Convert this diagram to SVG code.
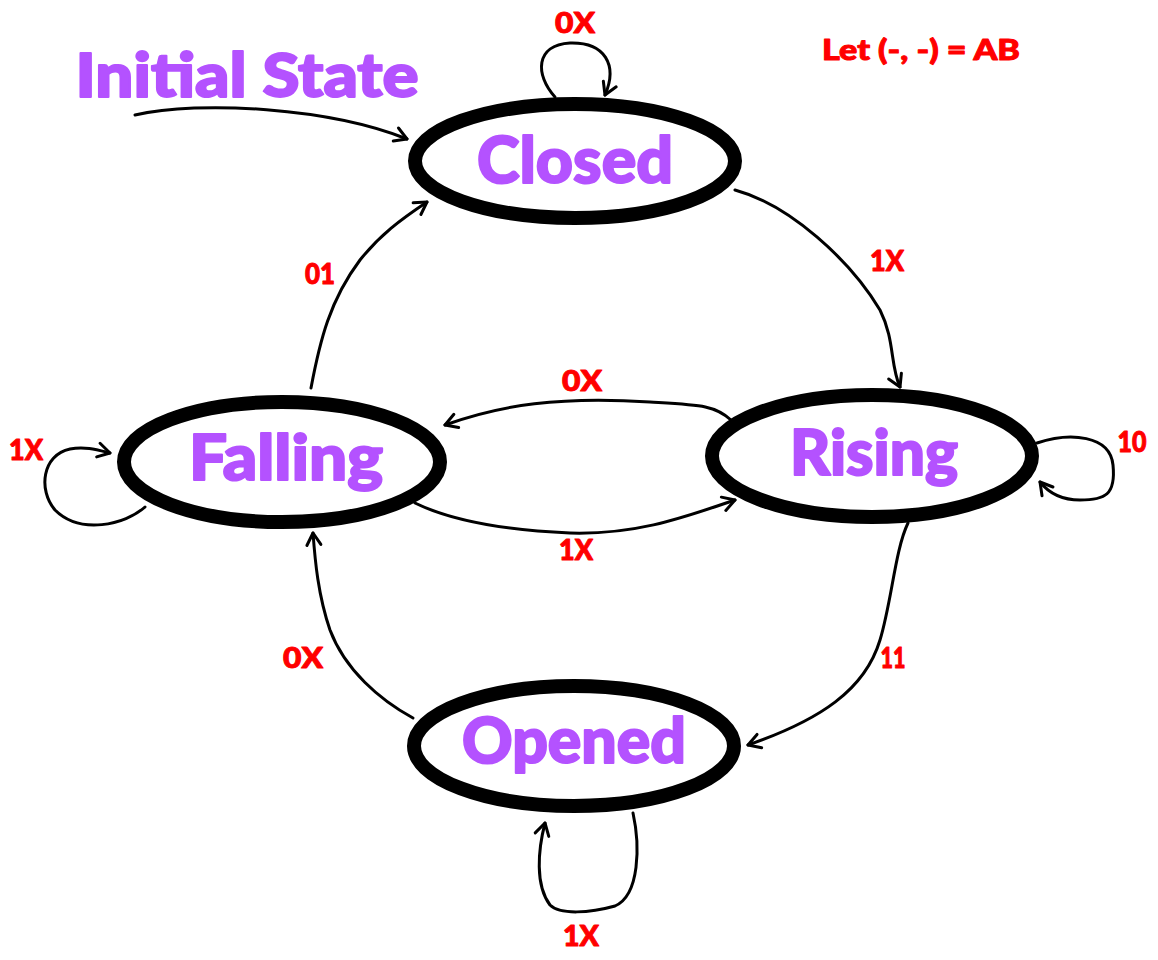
<svg xmlns="http://www.w3.org/2000/svg" width="1158" height="960" viewBox="0 0 1158 960">
<defs>
<marker id="ah" viewBox="-15 -10 18 20" refX="0" refY="0" markerWidth="18" markerHeight="20" markerUnits="userSpaceOnUse" orient="auto">
<path d="M-12,-7 L0,0 L-12,7" fill="none" stroke="#000" stroke-width="3" stroke-linecap="round" stroke-linejoin="round"/>
</marker>
</defs>
<style>
.st{fill:#fff;stroke:#000;stroke-width:14}
.name{font-family:Lato,"Liberation Sans",sans-serif;font-weight:900;fill:#b452ff;stroke:#b452ff;stroke-width:2;stroke-linejoin:round;text-anchor:middle}
.lbl{font-family:Lato,"Liberation Sans",sans-serif;font-weight:900;fill:#ff0000;stroke:#ff0000;stroke-width:1;stroke-linejoin:round;text-anchor:middle;font-size:29px}
.c{fill:none;stroke:#000;stroke-width:3;stroke-linecap:round;stroke-linejoin:round;marker-end:url(#ah)}
.c2{fill:none;stroke:#000;stroke-width:3;stroke-linecap:round}
</style>
<rect width="1158" height="960" fill="#fff"/>
<g id="connectors">
<path class="c" d="M135,115 C200,100 330,108 407,139"/>
<path class="c" d="M555,97 C535,75 535,45 570,43 C605,42 618,65 605,95"/>
<path class="c" d="M735,190 C790,205 850,260 880,310 C895,340 890,365 900,387"/>
<path class="c" d="M311,388 C320,340 330,300 360,260 C380,235 400,220 427,202"/>
<path class="c" d="M731,420 C715,405 700,405 650,402 C560,396 500,405 445,425"/>
<path class="c" d="M415,503 C450,520 500,530 570,533 C640,535 690,515 735,500"/>
<path class="c" d="M145,507 C125,525 80,535 55,510 C38,490 42,455 70,449 C85,446 98,450 110,453"/>
<path class="c" d="M1037,443 C1070,432 1110,435 1113,465 C1116,495 1105,500 1080,500 C1060,500 1048,492 1040,482"/>
<path class="c" d="M908,523 C895,550 892,600 880,640 C865,690 820,720 748,745"/>
<path class="c" d="M413,718 C380,700 345,670 330,630 C318,595 315,560 313,533"/>
<path class="c" d="M633,813 C640,845 640,895 615,906 C590,913 560,915 550,905 C535,885 538,850 545,823"/>
</g>
<g id="closed">
<ellipse class="st" cx="575" cy="161" rx="160" ry="57"/>
<text class="name" x="575" y="183" font-size="64" textLength="196" lengthAdjust="spacingAndGlyphs">Closed</text>
</g>
<g id="falling">
<ellipse class="st" cx="282" cy="462" rx="158" ry="60"/>
<text class="name" x="286" y="480" font-size="62" textLength="194" lengthAdjust="spacingAndGlyphs">Falling</text>
</g>
<g id="rising">
<ellipse class="st" cx="872" cy="456" rx="160" ry="61"/>
<text class="name" x="874" y="475" font-size="62" textLength="168" lengthAdjust="spacingAndGlyphs">Rising</text>
</g>
<g id="opened">
<ellipse class="st" cx="574" cy="746" rx="160" ry="60"/>
<text class="name" x="574" y="763" font-size="62" textLength="224" lengthAdjust="spacingAndGlyphs">Opened</text>
</g>
<g id="initial">
<text class="name" x="247" y="97" font-size="60" textLength="343" lengthAdjust="spacingAndGlyphs">Initial State</text>
</g>
<g id="labels">
<text class="lbl" x="575" y="33" textLength="40" lengthAdjust="spacingAndGlyphs">0X</text>
<text class="lbl" x="887" y="271" textLength="34" lengthAdjust="spacingAndGlyphs">1X</text>
<text class="lbl" x="320" y="284" textLength="30" lengthAdjust="spacingAndGlyphs">01</text>
<text class="lbl" x="582" y="391" textLength="40" lengthAdjust="spacingAndGlyphs">0X</text>
<text class="lbl" x="576" y="560" textLength="34" lengthAdjust="spacingAndGlyphs">1X</text>
<text class="lbl" x="26" y="460" textLength="34" lengthAdjust="spacingAndGlyphs">1X</text>
<text class="lbl" x="1132" y="452" textLength="29" lengthAdjust="spacingAndGlyphs">10</text>
<text class="lbl" x="303" y="668" textLength="40" lengthAdjust="spacingAndGlyphs">0X</text>
<text class="lbl" x="893" y="668" textLength="25" lengthAdjust="spacingAndGlyphs">11</text>
<text class="lbl" x="581" y="946" textLength="36" lengthAdjust="spacingAndGlyphs">1X</text>
<text class="lbl" x="921" y="60" textLength="198" lengthAdjust="spacingAndGlyphs">Let (-, -) = AB</text>
</g>
</svg>
